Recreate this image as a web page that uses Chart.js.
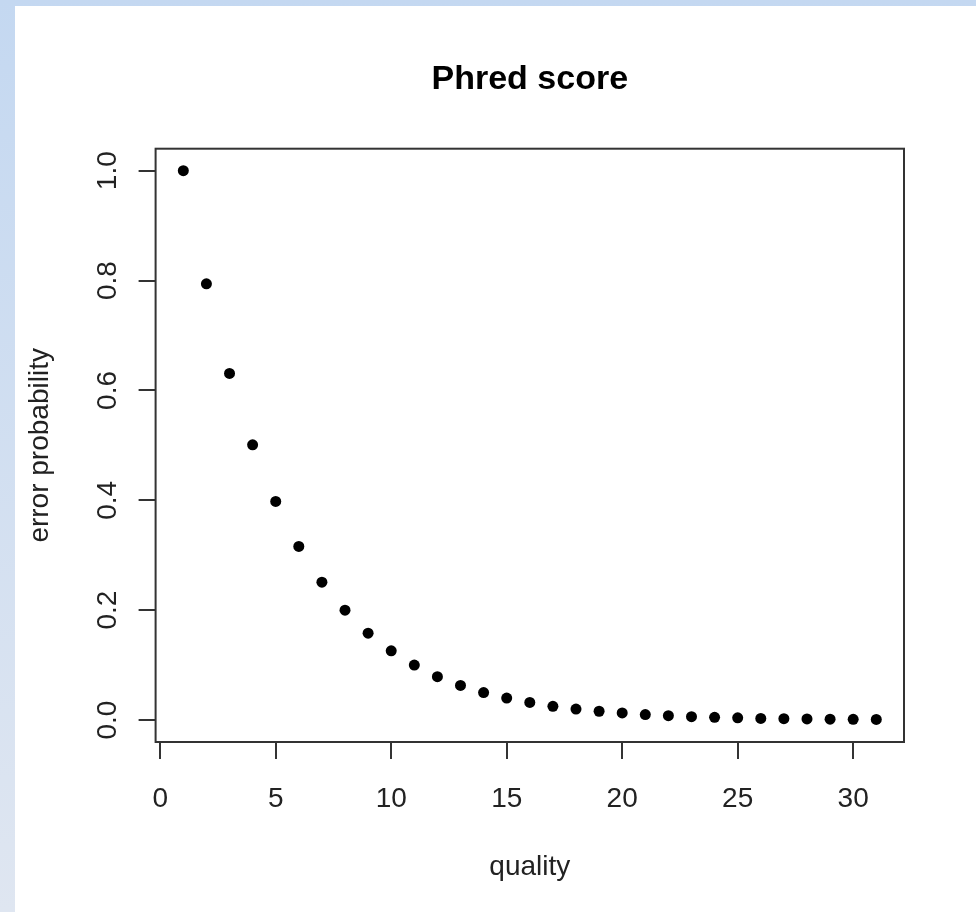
<!DOCTYPE html>
<html>
<head>
<meta charset="utf-8">
<title>Phred score</title>
<script src="https://cdn.jsdelivr.net/npm/chart.js@4.4.1/dist/chart.umd.min.js"></script>
<style>
  html, body { margin: 0; padding: 0; }
  body {
    width: 976px;
    height: 912px;
    overflow: hidden;
    background: linear-gradient(to bottom, #c4d8f1, #dfe6f1);
    position: relative;
  }
  #panel {
    position: absolute;
    left: 15px;
    top: 6px;
    width: 961px;
    height: 906px;
    background: #ffffff;
  }
</style>
</head>
<body>
<div id="panel">
  <canvas id="myChart" width="961" height="906"></canvas>
</div>
<script>
'use strict'
//////////////////
//Data
/////////////////
const qualityScores = [1,2,3,4,5,6,7,8,9,10,11,12,13,14,15,16,17,18,19,20,21,22,23,24,25,26,27,28,29,30,31];
const errorProbs = [1.0,0.794,0.631,0.501,0.398,0.316,0.251,0.2,0.158,0.126,0.1,0.079,0.063,0.05,0.04,0.032,0.025,0.02,0.016,0.013,0.01,0.008,0.006,0.005,0.004,0.003,0.0025,0.002,0.0016,0.0013,0.001];
const xTicks = [0,5,10,15,20,25,30];
const yTicks = [0.0,0.2,0.4,0.6,0.8,1.0];
const yTickLabels = ['0.0','0.2','0.4','0.6','0.8','1.0'];

const fontFamily = '"Liberation Sans", Arial, Helvetica, sans-serif';
const inkColor = '#222';

/////////////////////////
//Plugins
////////////////////////
//Box around the plot region, like R's box()
const boxPlugin = {
  id: 'boxPlugin',
  afterDraw(chart){
    const area = chart.chartArea;
    const ctx = chart.ctx;
    ctx.save();
    ctx.strokeStyle = '#333';
    ctx.lineWidth = 2;
    ctx.strokeRect(area.left, area.top, area.right - area.left, area.bottom - area.top);
    ctx.restore();
  }
};

//Y tick labels rotated so they read bottom to top
const yLabelPlugin = {
  id: 'yLabelPlugin',
  afterDraw(chart){
    const yScale = chart.scales.y;
    const ctx = chart.ctx;
    ctx.save();
    ctx.fillStyle = inkColor;
    ctx.font = '28px ' + fontFamily;
    ctx.textAlign = 'center';
    ctx.textBaseline = 'middle';
    for (let i = 0; i < yTicks.length; i++){
      const py = yScale.getPixelForValue(yTicks[i]);
      ctx.save();
      ctx.translate(yScale.right - 47, py);
      ctx.rotate(-Math.PI / 2);
      ctx.fillText(yTickLabels[i], 0, 0);
      ctx.restore();
    }
    ctx.restore();
  }
};

/////////////////////////
//Chart
////////////////////////
function renderChart(){
  const points = [];
  for (let i = 0; i < qualityScores.length; i++){
    points.push({x: qualityScores[i], y: errorProbs[i]});
  }

  const data = {
    datasets: [{
      label: 'error probability',
      data: points,
      backgroundColor: '#000',
      borderColor: '#000',
      borderWidth: 0,
      pointRadius: 5.5,
      pointHoverRadius: 5.5,
      showLine: false
    }]
  };

  const config = {
    type: 'scatter',
    data: data,
    options: {
      responsive: false,
      animation: false,
      devicePixelRatio: 1,
      layout: {
        padding: {left: 0, right: 72, top: 0, bottom: 0}
      },
      plugins: {
        legend: {display: false},
        tooltip: {enabled: false},
        title: {
          display: true,
          text: 'Phred score',
          color: '#000',
          fullSize: false,
          font: {family: fontFamily, size: 34, weight: 'bold', lineHeight: 1.2},
          padding: {top: 53, bottom: 48.9}
        }
      },
      scales: {
        x: {
          type: 'linear',
          min: -0.2,
          max: 32.2,
          afterBuildTicks(scale){
            scale.ticks = xTicks.map(v => ({value: v}));
          },
          afterFit(scale){
            scale.height = 170;
          },
          border: {display: false},
          grid: {
            drawOnChartArea: false,
            drawTicks: true,
            tickLength: 17,
            color: '#333',
            lineWidth: 2
          },
          ticks: {
            color: inkColor,
            padding: 23,
            maxRotation: 0,
            font: {family: fontFamily, size: 28}
          },
          title: {
            display: true,
            text: 'quality',
            color: inkColor,
            font: {family: fontFamily, size: 28, lineHeight: 1.2},
            padding: {top: 0, bottom: 28}
          }
        },
        y: {
          type: 'linear',
          min: -0.04,
          max: 1.04,
          afterBuildTicks(scale){
            scale.ticks = yTicks.map(v => ({value: v}));
          },
          afterFit(scale){
            scale.width = 140.6;
          },
          border: {display: false},
          grid: {
            drawOnChartArea: false,
            drawTicks: true,
            tickLength: 17,
            color: '#333',
            lineWidth: 2
          },
          ticks: {
            display: false
          },
          title: {
            display: true,
            text: 'error probability',
            color: inkColor,
            font: {family: fontFamily, size: 28, lineHeight: 1.2},
            padding: {top: 8, bottom: 0}
          }
        }
      }
    },
    plugins: [boxPlugin, yLabelPlugin]
  };

  const canvasChart = document.getElementById('myChart');
  new Chart(canvasChart, config);
}

renderChart();
</script>
</body>
</html>
